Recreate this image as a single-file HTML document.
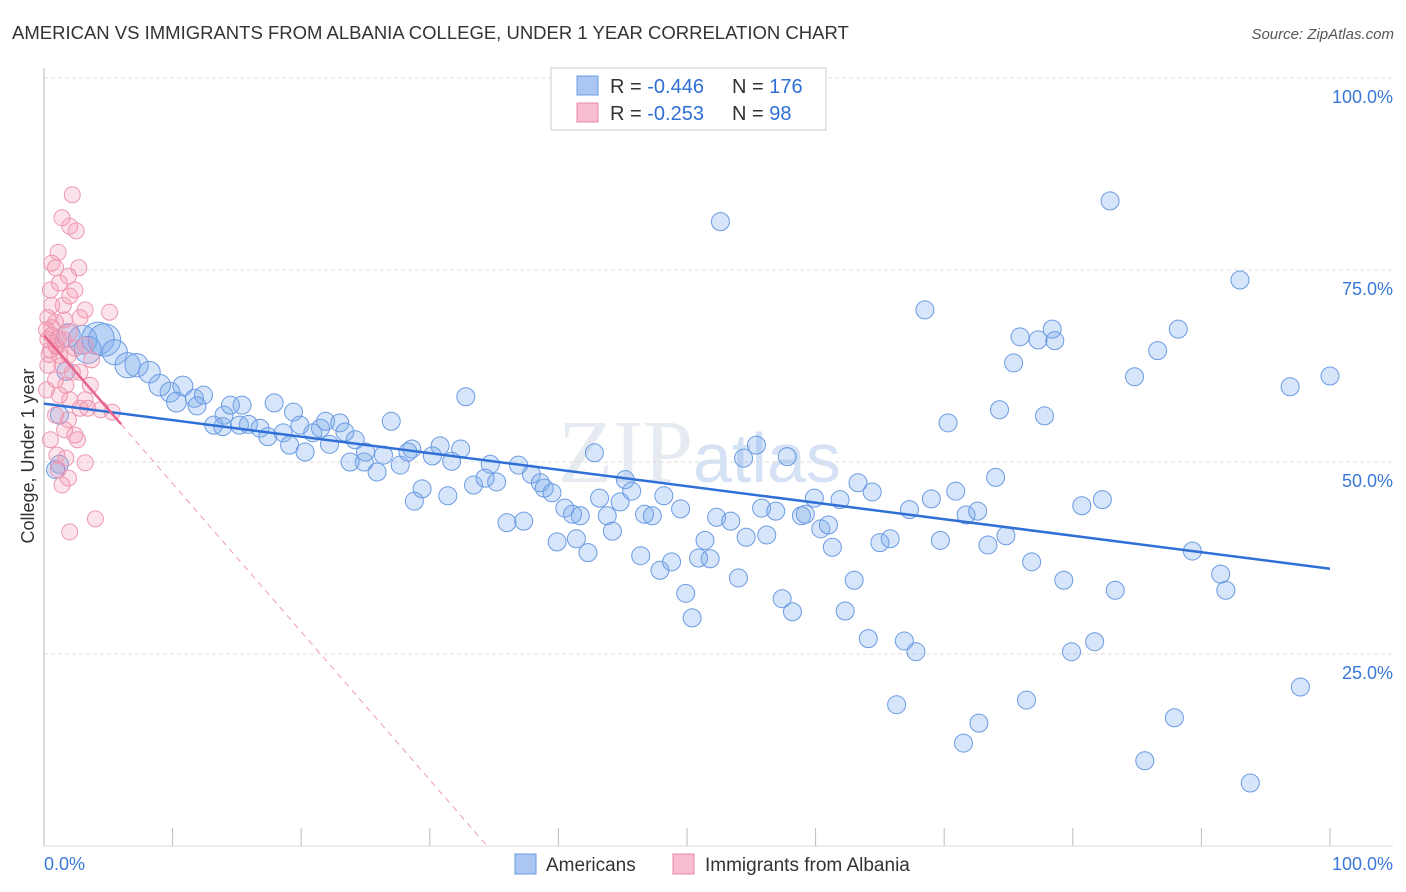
<!DOCTYPE html>
<html><head><meta charset="utf-8"><style>
body{margin:0;background:#fff;font-family:"Liberation Sans",sans-serif;}
#wrap{position:relative;width:1406px;height:892px;overflow:hidden;}
</style></head><body>
<div id="wrap">
<svg id="chart" width="1406" height="892">
<text x="12" y="39" font-size="18.5" fill="#333">AMERICAN VS IMMIGRANTS FROM ALBANIA COLLEGE, UNDER 1 YEAR CORRELATION CHART</text>
<text x="1394" y="39" font-size="15" fill="#555" font-style="italic" text-anchor="end">Source: ZipAtlas.com</text>
<text x="558" y="482" font-size="90" fill="#e6ebf2" font-family="Liberation Serif">ZIP<tspan font-family="Liberation Sans" font-size="70" fill="#d5e2f5">atlas</tspan></text>
<g id="grid"></g>
<g id="axes"></g>
<g id="pts"></g>
<g id="trend"></g>
<text x="34" y="456" font-size="18" fill="#333" text-anchor="middle" transform="rotate(-90 34 456)">College, Under 1 year</text>
<g>
<rect x="551" y="68" width="275" height="62" fill="#fff" stroke="#ccc"/>
<rect x="577" y="76" width="21" height="19" fill="#a9c7f2" stroke="#6b9de3"/>
<rect x="577" y="103" width="21" height="19" fill="#f7bccd" stroke="#e88aa8"/>
<text x="610" y="93" font-size="20" fill="#333">R = <tspan fill="#2f6fd6">-0.446</tspan><tspan x="732">N = </tspan><tspan fill="#2f6fd6">176</tspan></text>
<text x="610" y="120" font-size="20" fill="#333">R = <tspan fill="#2f6fd6"> -0.253</tspan><tspan x="732">N = </tspan><tspan fill="#2f6fd6"> 98</tspan></text>
</g>
<g>
<rect x="515" y="854" width="21" height="20" fill="#a9c7f2" stroke="#6b9de3"/>
<text x="546" y="871" font-size="19" fill="#333">Americans</text>
<rect x="673" y="854" width="21" height="20" fill="#f7bccd" stroke="#e88aa8"/>
<text x="705" y="871" font-size="19" fill="#333">Immigrants from Albania</text>
</g>
</svg>
</div>
<script>
const xTicks=[0,10,20,30,40,50,60,70,80,90,100];
const yTicks=[25,50,75,100];
const yTickLabels=["25.0%","50.0%","75.0%","100.0%"];
const xEndLabels=["0.0%","100.0%"];
const blueX=[52.6,82.9,93.0,68.5,88.2,78.4,75.9,77.3,78.6,86.6,75.4,84.8,100,96.9,32.8,74.3,77.8,27.0,70.3,55.4,42.8,54.4,57.8,74.0,45.2,34.7,36.9,32.4,30.8,28.6,30.2,31.7,27.7,25.9,24.9,23.8,25.0,26.4,28.3,29.4,28.8,31.4,33.4,34.3,35.2,37.9,38.6,38.9,39.5,40.5,41.1,41.7,43.2,44.8,45.7,46.7,47.3,48.2,49.5,43.8,44.2,36.0,37.3,39.9,41.4,42.3,46.4,47.9,48.8,50.9,51.8,49.9,50.4,51.4,52.3,53.4,54.6,56.2,55.8,56.9,58.9,59.2,59.9,60.4,61.0,61.3,61.9,63.3,64.4,67.3,65.0,65.8,69.0,69.7,70.9,71.7,72.6,73.4,74.8,63.0,57.4,58.2,62.3,64.1,66.9,67.8,66.3,71.5,72.7,76.4,76.8,79.3,79.9,81.7,80.7,82.3,83.3,85.6,87.9,89.3,91.5,91.9,97.7,93.8,54.0,1.2,0.9,1.9,3.0,4.2,4.7,3.4,5.5,6.5,7.2,8.2,9.0,9.8,10.8,10.3,11.7,12.4,11.9,13.2,14.0,13.9,14.5,15.4,15.2,15.9,16.8,17.4,17.9,18.6,19.1,19.4,19.9,20.3,20.9,21.5,21.9,22.2,23.0,23.4,24.2,1.2,1.7];
const blueY=[81.3,84.0,73.7,69.8,67.3,67.3,66.3,65.9,65.8,64.5,62.9,61.1,61.2,59.8,58.5,56.8,56.0,55.3,55.1,52.2,51.2,50.5,50.7,48.0,47.7,49.7,49.6,51.7,52.1,51.7,50.8,50.1,49.6,48.7,50.0,50.0,51.3,50.9,51.3,46.5,44.9,45.6,47.0,47.9,47.4,48.4,47.3,46.6,46.0,44.0,43.2,43.0,45.3,44.8,46.2,43.2,43.0,45.6,43.9,43.0,41.0,42.1,42.3,39.6,40.0,38.2,37.8,35.9,37.0,37.5,37.4,32.9,29.7,39.8,42.8,42.3,40.2,40.5,44.0,43.6,43.0,43.2,45.3,41.3,41.8,38.9,45.1,47.3,46.1,43.8,39.5,40.0,45.2,39.8,46.2,43.1,43.6,39.2,40.4,34.6,32.2,30.5,30.6,27.0,26.7,25.3,18.4,13.4,16.0,19.0,37.0,34.6,25.3,26.6,44.3,45.1,33.3,11.1,16.7,38.4,35.4,33.3,20.7,8.2,34.9,49.7,49.0,66.5,65.9,66.1,65.9,64.6,64.3,62.6,62.6,61.7,60.0,59.1,59.9,57.8,58.3,58.7,57.3,54.8,56.1,54.6,57.4,57.4,54.8,54.9,54.4,53.3,57.7,53.8,52.2,56.5,54.8,51.3,53.8,54.4,55.3,52.3,55.1,53.9,52.9,56.1,61.8];
const blueW=[1,1,1,1,1,1,1,1,1,1,1,1,1,1,1,1,1,1,1,1,1,1,1,1,1,1,1,1,1,1,1,1,1,1,1,1,1,1,1,1,1,1,1,1,1,1,1,1,1,1,1,1,1,1,1,1,1,1,1,1,1,1,1,1,1,1,1,1,1,1,1,1,1,1,1,1,1,1,1,1,1,1,1,1,1,1,1,1,1,1,1,1,1,1,1,1,1,1,1,1,1,1,1,1,1,1,1,1,1,1,1,1,1,1,1,1,1,1,1,1,1,1,1,1,1,1,1,1.3,1.6,1.8,1.8,1.5,1.4,1.4,1.3,1.2,1.2,1.1,1.1,1.1,1,1,1,1,1,1,1,1,1,1,1,1,1,1,1,1,1,1,1,1,1,1,1,1,1,1,1,1.2,1.2];
const pinkX=[2.2,1.4,2.0,2.5,1.1,0.6,0.9,2.7,1.9,1.2,0.5,2.4,2.0,0.6,1.5,3.2,5.1,0.3,0.9,1.6,2.8,0.2,0.6,1.1,1.5,2.0,0.9,0.5,1.2,1.9,2.4,3.2,3.7,0.3,1.4,2.2,2.8,0.9,1.7,3.6,0.2,1.2,2.0,3.2,4.4,5.3,0.9,1.9,2.8,3.4,1.6,2.4,2.6,1.0,1.7,3.2,1.4,1.9,4.0,2.0,1.1,0.5,0.3,0.6,1.0,0.4];
const pinkY=[84.8,81.8,80.7,80.1,77.3,75.9,75.3,75.3,74.2,73.3,72.4,72.4,71.6,70.4,70.4,69.8,69.5,68.8,68.2,68.5,68.8,67.2,66.5,66.1,65.9,66.9,65.2,64.6,63.9,63.9,64.8,65.2,63.3,62.6,62.6,61.7,61.7,60.7,60.0,60.0,59.4,58.7,58.1,58.1,56.8,56.5,56.1,55.5,57.0,57.0,54.2,53.5,52.9,50.9,50.5,49.9,47.0,47.9,42.6,40.9,49.0,52.9,66.0,67.5,65.0,64.0];
const blueTrend=[57.6,36.1];
const pinkTrend=[66.5,-1.93];
const pinkSolidEnd=6;

const X0=44,X1=1330,Y100=78,Y0=846;
const sx=v=>X0+(X1-X0)*v/100;
const sy=v=>Y0-(Y0-Y100)*v/100;
const NS="http://www.w3.org/2000/svg";
function mk(tag,attrs,parent){const e=document.createElementNS(NS,tag);for(const k in attrs)e.setAttribute(k,attrs[k]);parent.appendChild(e);return e;}
const grid=document.getElementById('grid'),axes=document.getElementById('axes'),pts=document.getElementById('pts'),trend=document.getElementById('trend');
yTicks.forEach((t,i)=>{
 const l=mk('line',{x1:X0,x2:1393,y1:sy(t),y2:sy(t),stroke:'#ddd','stroke-dasharray':'4,3'},grid);
 
 
 const tx=mk('text',{x:1393,y:sy(t)+25,'font-size':18,fill:'#3a78d8','text-anchor':'end'},axes);
 tx.textContent=yTickLabels[i];
 
 
});
const ax=mk('line',{x1:X0,x2:X0,y1:68,y2:Y0,stroke:'#bbb'},axes);


const bx=mk('line',{x1:X0,x2:1393,y1:Y0,y2:Y0,stroke:'#ddd'},axes);


xTicks.forEach(t=>{
 const l=mk('line',{x1:sx(t),x2:sx(t),y1:828,y2:Y0,stroke:'#bbb'},axes);
 
 
});
const xl0=mk('text',{x:44,y:870,'font-size':18,fill:'#3a78d8'},axes);xl0.textContent=xEndLabels[0];


const xl1=mk('text',{x:1393,y:870,'font-size':18,fill:'#3a78d8','text-anchor':'end'},axes);xl1.textContent=xEndLabels[1];


blueX.forEach((x,i)=>{
 const c=mk('circle',{cx:sx(x),cy:sy(blueY[i]),r:9*blueW[i],fill:'rgba(120,168,235,0.3)',stroke:'#6b9be3','stroke-width':1},pts);
 
 
});
pinkX.forEach((x,i)=>{
 const c=mk('circle',{cx:sx(x),cy:sy(pinkY[i]),r:8,fill:'rgba(244,145,175,0.26)',stroke:'#ee98b2','stroke-width':1},pts);
 
 
});
const bt=mk('line',{x1:sx(0),y1:sy(blueTrend[0]),x2:sx(100),y2:sy(blueTrend[1]),stroke:'#2f6fd6','stroke-width':2.5},trend);


const pEnd=-pinkTrend[0]/pinkTrend[1];
const pd=mk('line',{x1:sx(pinkSolidEnd),y1:sy(pinkTrend[0]+pinkTrend[1]*pinkSolidEnd),x2:sx(pEnd),y2:sy(0),stroke:'#ef9ab4','stroke-width':1,'stroke-dasharray':'6,5'},trend);


const ps=mk('line',{x1:sx(0),y1:sy(pinkTrend[0]),x2:sx(pinkSolidEnd),y2:sy(pinkTrend[0]+pinkTrend[1]*pinkSolidEnd),stroke:'#e8638d','stroke-width':2.5},trend);


</script>
</body></html>
